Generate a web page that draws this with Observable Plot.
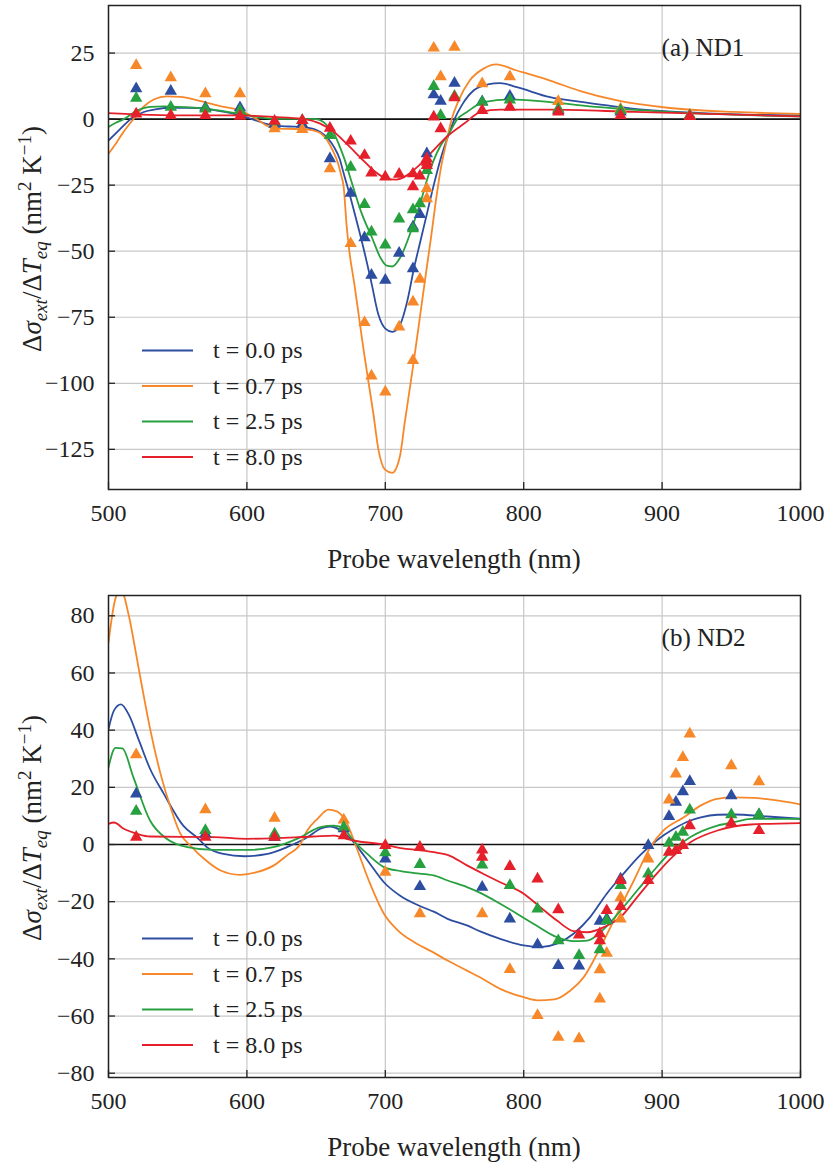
<!DOCTYPE html>
<html>
<head>
<meta charset="utf-8">
<script src="https://cdn.jsdelivr.net/npm/d3@7"></script>
<script src="https://cdn.jsdelivr.net/npm/@observablehq/plot@0.6"></script>
<style>
  html, body { margin: 0; padding: 0; background: #fff; }
  #chart svg { display: block; }
  #chart svg, #chart svg text, #chart svg tspan { font-family: "Liberation Serif", "Times New Roman", Times, serif !important; }
</style>
</head>
<body>
<div id="chart"></div>
<script>
// ---------- series ----------
const seriesLabels = ["t = 0.0 ps", "t = 0.7 ps", "t = 2.5 ps", "t = 8.0 ps"];
const seriesColors = ["#2c4da0", "#f7882a", "#27a03f", "#e5202a"];
const panelTags = ["(a) ND1", "(b) ND2"];
const xTicks = [500, 600, 700, 800, 900, 1000];
const yTicksA = [-125, -100, -75, -50, -25, 0, 25];
const yTicksB = [-80, -60, -40, -20, 0, 20, 40, 60, 80];
const xLabel = "Probe wavelength (nm)";

// ---------- panel (a) ND1 : fitted curves [wavelength, value] ----------
const fitA00 = [[500,-8.1],[508,-4],[516,0],[525,2.6],[535,3.8],[545,4.3],[558,4.3],[571,3.9],[583,2.8],[595,1.4],[607,-0.6],[619,-2.4],[630,-2.8],[640,-3.0],[648,-3.7],[653,-4.9],[658,-7],[663,-10.6],[667,-15],[670,-20.7],[675,-30],[680,-40],[685,-50.5],[690,-62],[695,-74],[700,-79.3],[705,-80.5],[711,-77.4],[716,-68.6],[720.5,-57],[725,-47],[730,-36],[735,-25],[740,-15],[746,-5.5],[750,0],[755,5],[764,10.9],[774,13.1],[783,13.6],[795,12.1],[819,8.3],[843,6.4],[880,3.9],[928,2.3],[1000,1.4]];
const fitA07 = [[500,-13.1],[505,-9.5],[510,-5.5],[518,0],[525,4.5],[533,7.5],[542,8.6],[552,8.4],[565,7],[580,5],[595,3.3],[607,0],[619,-3.5],[630,-3.7],[640,-3.8],[648,-4.3],[653,-5.3],[658,-8],[662,-11.8],[666,-17],[668,-21],[670,-26],[672,-40],[674,-50],[677.5,-62],[681,-75],[684.5,-88],[688,-100],[691.5,-112],[695,-125],[699.7,-132.6],[705,-133.9],[710.5,-127.8],[714,-115],[720,-93.8],[725,-75],[730,-56],[733,-45],[736,-33],[740,-19],[744,-9],[748,0],[753,7.1],[761,14.6],[771,19.1],[780,20.7],[795,18.4],[819,14.6],[841,10.6],[867.5,7.1],[904,4.3],[952,2.7],[1000,2.0]];
const fitA25 = [[500,-3.0],[505,-1.5],[511,0],[520,3],[530,4.6],[540,4.8],[555,4.5],[571,3.9],[595,2.0],[619,0.1],[640,0.1],[650,0],[655,-1],[659,-3],[663,-5.5],[666,-9],[670,-14.4],[676,-24.4],[683,-35.8],[690.5,-45],[696.5,-52.5],[701,-55.5],[705,-55.8],[711,-52.2],[718,-43.2],[722,-37],[726,-30.5],[730,-23.2],[735,-15.5],[740,-10],[746,-5.5],[752,0],[759,2.7],[771,6.4],[790,7.5],[819,6.4],[855,4.5],[904,2.7],[1000,1.0]];
const fitA80 = [[500,2.3],[520,1.8],[553,1.4],[595,1.4],[619,0.8],[640,0.1],[653,-1.7],[663,-4.9],[672,-9.3],[684,-15.6],[691.5,-19.4],[701,-22.5],[708,-22.9],[715.6,-21.3],[723,-18.2],[732.5,-13.1],[745,-6.4],[757,-1.7],[769,2.7],[783,3.6],[819,3.6],[880,2.7],[1000,1.0]];

// ---------- panel (a) ND1 : measured points ----------
const ptsA00 = [[520,11.5],[545,10.6],[570,4.3],[595,4.3],[620,-1.9],[640,-1.9],[660,-15],[675,-28],[685,-44.9],[690,-59.1],[700,-61],[710,-50.7],[720,-40.8],[720,-56.6],[725,-36.1],[730,-13.1],[735,9.2],[740,6.8],[750,13.6],[770,6.6],[790,8.7],[825,3.3],[870,2.7],[920,1.2]];
const ptsA07 = [[520,20.3],[545,15.7],[570,9.6],[595,9.6],[620,-3.6],[640,-3.9],[660,-18.8],[675,-47.1],[685,-77],[690,-97.2],[700,-103.3],[710,-78.7],[720,-69.2],[720,-91.3],[725,-60.6],[730,-26.3],[730,-30.1],[735,26.9],[740,16.1],[750,27.2],[770,13.4],[790,16.1],[825,6.7],[870,3.9],[920,1.4]];
const ptsA25 = [[520,7.9],[545,4.5],[570,3.9],[595,3.3],[620,-1.0],[640,-0.5],[660,-6.2],[675,-18.2],[685,-32.3],[690,-42.7],[700,-47.6],[710,-37.8],[720,-34.3],[720,-41.5],[725,-32],[730,-19.4],[735,12.4],[740,1.4],[750,8.7],[770,6.4],[790,7.3],[825,3.9],[870,3.3],[920,1.4]];
const ptsA80 = [[520,2.0],[545,1.4],[570,1.4],[595,1.1],[620,-0.8],[640,-0.5],[660,-3.4],[675,-8.3],[685,-13.7],[690,-20.4],[700,-21.9],[710,-20.8],[720,-20.7],[720,-25.6],[725,-21.5],[730,-15],[730,-16.3],[730,-17.5],[735,0.8],[740,-3.6],[750,8.1],[770,3.3],[790,4.5],[825,2.7],[870,1.4],[920,1.0]];

// ---------- panel (b) ND2 : fitted curves ----------
const fitB00 = [[500,40.4],[504,46.9],[509,49],[515,45.1],[522,36.4],[530,26.5],[540,17.7],[554,6.6],[565,2],[571,-0.9],[583,-3.3],[598,-4.1],[615,-3.3],[629,-0.9],[644,2.6],[653,5.5],[660,6.3],[668,4.9],[675,2],[680,-0.9],[689,-6.8],[699,-13.2],[711,-18],[725,-21.5],[735,-23.5],[745,-26],[759,-28.3],[769,-30.5],[783,-33],[800,-35.3],[812,-35.9],[824,-34.7],[836,-31.2],[848,-25.4],[860,-17.2],[872,-10.3],[884,-3.8],[896,1.4],[908.5,5.5],[920.5,8.4],[928,9.5],[940,10.4],[952,10.5],[976,9.8],[1000,9]];
const fitB07 = [[500,70.7],[505,86],[509,89],[514.7,80],[519.5,67.8],[524.3,55],[530.3,39.9],[537.6,24.7],[544.8,13],[552,3.7],[559,-0.3],[569,-5],[581,-9.1],[595,-10.6],[607,-9.7],[619.5,-7.3],[629,-3.8],[638.7,0.2],[643.6,4.9],[651,9],[659,12.2],[665,11.6],[672.5,7.2],[677.3,1.4],[680,-2.1],[689,-13.7],[699,-24.2],[709,-30],[721,-34.2],[733,-37.3],[745,-40.6],[759,-44.1],[769,-46.6],[783,-50.5],[800,-53.4],[810,-54.5],[822,-54.2],[834,-51],[843.4,-46.4],[855.5,-35.9],[867.5,-24.2],[879.6,-12.6],[891.6,-0.9],[901,4.9],[915.7,9.5],[927.7,13.6],[939.8,16],[951.8,16.5],[966,16.3],[983,15.4],[1000,14]];
const fitB25 = [[500,27],[505,33.8],[510,33.6],[518,23.5],[530,8.4],[542,2],[557,-0.9],[576,-1.9],[600,-1.9],[619,-0.9],[639,2.6],[653,6.1],[663,6.6],[670,5.5],[677,1.4],[687,-3.3],[699,-7.9],[711,-9.3],[721,-10],[735,-10.8],[745,-12.6],[759,-14.9],[769,-17],[783,-20.7],[807,-27.7],[824,-32.4],[836,-33.8],[846,-33.6],[858,-29.5],[870,-23.1],[882,-16.1],[894,-9.1],[906,-2.7],[920.5,2.6],[940,6.6],[952,7.8],[964,9],[1000,9]];
const fitB80 = [[500,7.2],[504,7.7],[511,5.5],[521,3.7],[530,2.8],[576,2.6],[600,2.0],[648,2.8],[663,3.1],[672,2],[677,1.4],[699,0],[711,-1.3],[721,-1.8],[735,-2.7],[745,-3.6],[759,-7.3],[771,-10.3],[783,-13.2],[800,-17.2],[812,-21.9],[824,-26.6],[836,-30.3],[846,-30.7],[858,-28.9],[870,-25.4],[882,-18.4],[894,-11.4],[906,-5],[920.5,0.8],[940,4.9],[964,7],[1000,7.5]];

// ---------- panel (b) ND2 : measured points ----------
const ptsB00 = [[520,17.7],[570,3.7],[620,2.5],[670,5.5],[700,-5],[725,-14.7],[770,-14.9],[790,-26],[810,-35],[825,-42.3],[840,-42.5],[855,-26.8],[860,-26],[870,-12],[890,-0.3],[905,9.8],[910,14.8],[915,18.5],[920,22.1],[950,17.1],[970,10.4]];
const ptsB07 = [[520,31.4],[570,12.2],[620,9.2],[670,8.6],[700,-9.7],[725,-24.2],[770,-24.2],[790,-43.7],[810,-59.8],[825,-67.4],[840,-67.9],[855,-43.8],[855,-54],[860,-38],[870,-18.6],[870,-26],[890,-5],[905,15.6],[910,24.7],[915,30.5],[920,38.7],[950,27.6],[970,22]];
const ptsB25 = [[520,11.7],[570,4.9],[620,3.7],[670,6.1],[700,-2.9],[725,-7],[770,-7.1],[790,-14.3],[810,-22.5],[825,-33.6],[840,-38.8],[855,-36.8],[860,-26.6],[870,-14.3],[890,-10.3],[905,0.5],[910,2.6],[915,4.3],[920,12.1],[950,10.4],[970,10.4]];
const ptsB80 = [[520,2.6],[570,2.6],[620,2.6],[670,3.1],[700,-0.3],[725,-0.9],[770,-1.9],[770,-4.4],[790,-7.7],[810,-12],[825,-22.8],[840,-31.6],[855,-31.2],[855,-33.6],[860,-23.1],[870,-12.6],[870,-21.7],[890,-12.6],[905,-2.7],[910,-2.1],[915,-0.3],[920,6.6],[950,7.5],[970,4.9]];

// ---------- drawing ----------
const W = 829, ML = 108, MR = 29, MB = 91;
const FONT = "Liberation Serif, Times New Roman, Times, serif";
const fmt = d => (d < 0 ? "\u2212" : "") + Math.abs(d);

function toRows(list) {
  return list.flatMap((arr, i) => arr.map(([x, y]) => ({x, y, s: seriesLabels[i]})));
}

function panel({fits, pts, yDomain, yTicks, height, marginTop, tag}) {
  const lineRows = toRows(fits);
  const ptRows = toRows(pts);
  const chart = Plot.plot({
    width: W, height, marginTop, marginBottom: MB, marginLeft: ML, marginRight: MR,
    style: {fontFamily: FONT, fontSize: "24px", color: "#222", background: "#fff", overflow: "visible"},
    x: {domain: [500, 1000]},
    y: {domain: yDomain},
    color: {domain: seriesLabels, range: seriesColors},
    marks: [
      Plot.gridX(xTicks, {stroke: "#c8c8c8", strokeOpacity: 1, strokeWidth: 1.2}),
      Plot.gridY(yTicks, {stroke: "#c8c8c8", strokeOpacity: 1, strokeWidth: 1.2}),
      Plot.ruleY([0], {stroke: "#111", strokeWidth: 1.6}),
      Plot.line(lineRows, {x: "x", y: "y", z: "s", stroke: "s", strokeWidth: 1.8, curve: "monotone-x", clip: true}),
      Plot.dot(ptRows, {x: "x", y: "y", fill: "s", symbol: "triangle", r: 4.6, stroke: "none", clip: true}),
      Plot.frame({stroke: "#222", strokeWidth: 1.5}),
      Plot.axisX(xTicks, {tickSize: -7, tickPadding: 21, stroke: "#222", strokeWidth: 1.3, label: null, fontSize: 24, tickFormat: fmt}),
      Plot.axisY(yTicks, {tickSize: -7, tickPadding: 21, stroke: "#222", strokeWidth: 1.3, label: null, fontSize: 24, tickFormat: fmt})
    ]
  });
  const svg = d3.select(chart).attr("font-family", FONT);
  const top = marginTop, bottom = height - MB, left = ML, right = W - MR;

  // legend
  const lg = svg.append("g").attr("font-size", 24).attr("text-anchor", "start");
  seriesLabels.forEach((lab, i) => {
    const yy = bottom - 32 - (seriesLabels.length - 1 - i) * 35.5;
    lg.append("line").attr("x1", left + 34).attr("x2", left + 85)
      .attr("y1", yy).attr("y2", yy).attr("stroke", seriesColors[i]).attr("stroke-width", 2);
    lg.append("text").attr("x", left + 105).attr("y", yy).attr("dy", "0.33em")
      .attr("fill", "#222").text(lab);
  });

  // panel tag
  svg.append("text").attr("x", left + 0.8 * (right - left)).attr("y", top + 51)
    .attr("text-anchor", "start").attr("font-size", 25).attr("fill", "#222").text(tag);

  // x label
  svg.append("text").attr("x", (left + right) / 2).attr("y", bottom + 79)
    .attr("text-anchor", "middle").attr("font-size", 27).attr("fill", "#222").text(xLabel);

  // y label with sub/superscripts
  const yl = svg.append("text")
    .attr("transform", `translate(41, ${(top + bottom) / 2 - 8}) rotate(-90)`)
    .attr("text-anchor", "middle").attr("font-size", 27).attr("fill", "#222");
  yl.append("tspan").text("Δ");
  yl.append("tspan").attr("font-style", "italic").text("σ");
  yl.append("tspan").attr("font-style", "italic").attr("font-size", 19).attr("dy", 6).text("ext");
  yl.append("tspan").attr("dy", -6).text("/Δ");
  yl.append("tspan").attr("font-style", "italic").text("T");
  yl.append("tspan").attr("font-style", "italic").attr("font-size", 19).attr("dy", 6).text("eq");
  yl.append("tspan").attr("dy", -6).text(" (nm");
  yl.append("tspan").attr("font-size", 19).attr("dy", -10).text("2");
  yl.append("tspan").attr("dy", 10).text(" K");
  yl.append("tspan").attr("font-size", 19).attr("dy", -10).text("−1");
  yl.append("tspan").attr("dy", 10).text(")");
  return chart;
}

const root = document.getElementById("chart");
root.appendChild(panel({
  fits: [fitA00, fitA07, fitA25, fitA80],
  pts: [ptsA00, ptsA07, ptsA25, ptsA80],
  yDomain: [-140.2, 43], yTicks: yTicksA, height: 580, marginTop: 5, tag: panelTags[0]
}));
root.appendChild(panel({
  fits: [fitB00, fitB07, fitB25, fitB80],
  pts: [ptsB00, ptsB07, ptsB25, ptsB80],
  yDomain: [-81.5, 87.1], yTicks: yTicksB, height: 588, marginTop: 15, tag: panelTags[1]
}));
</script>
</body>
</html>
